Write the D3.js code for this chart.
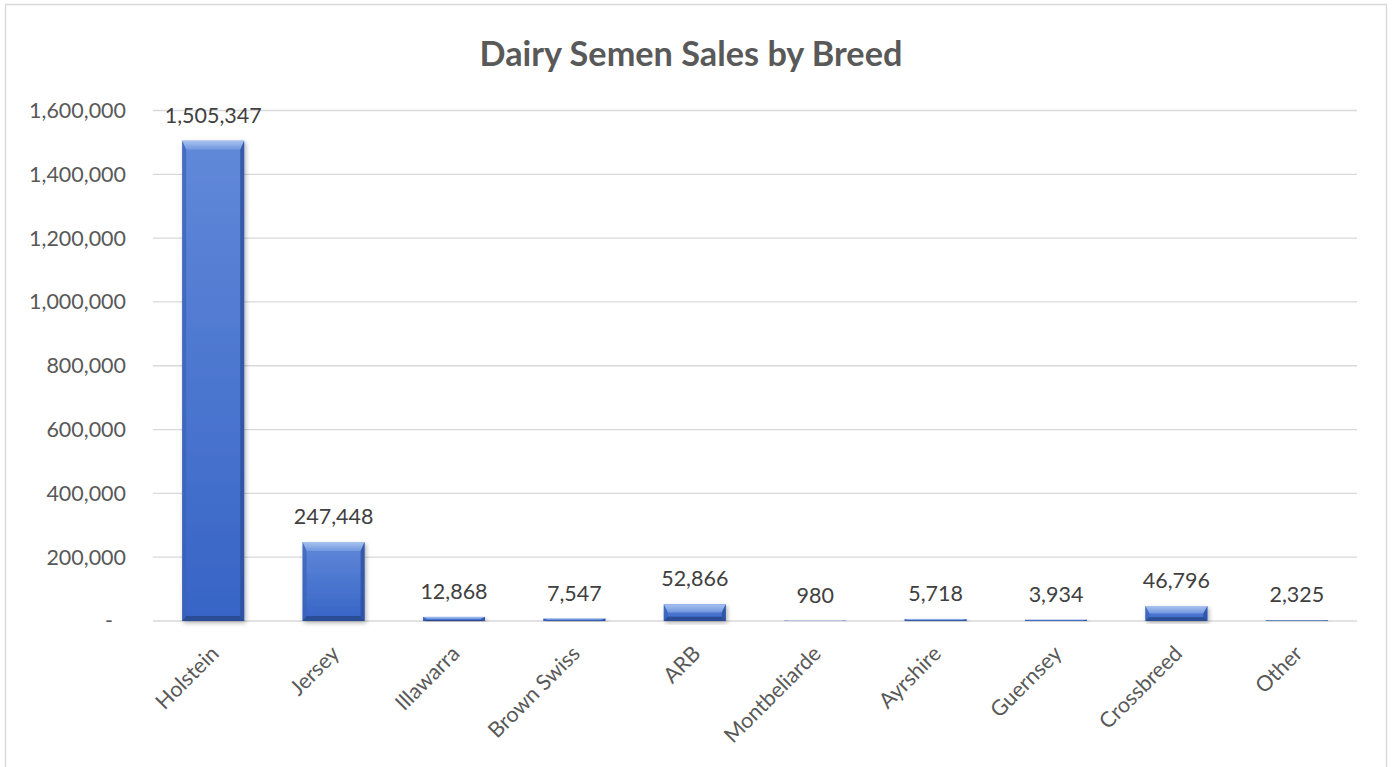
<!DOCTYPE html>
<html>
<head>
<meta charset="utf-8">
<script src="https://cdn.jsdelivr.net/npm/d3@7"></script>
<style>
  html, body { margin: 0; padding: 0; background: #fff; }
  svg { display: block; font-family: Lato, "Open Sans", sans-serif; }
</style>
</head>
<body>
<svg id="chart" width="1393" height="767"></svg>
<script>
const categories = ["Holstein", "Jersey", "Illawarra", "Brown Swiss", "ARB", "Montbeliarde", "Ayrshire", "Guernsey", "Crossbreed", "Other"];
const sales = [1505347, 247448, 12868, 7547, 52866, 980, 5718, 3934, 46796, 2325];
const yTicks = [0, 200000, 400000, 600000, 800000, 1000000, 1200000, 1400000, 1600000];
const title = "Dairy Semen Sales by Breed";

const W = 1393, H = 767;
const plot = { left: 153, right: 1357, top: 110.5, bottom: 621 };
const svg = d3.select("#chart");
const fmt = d3.format(",");

function fitSize(text, weight, targetWidth) {
  const t = svg.append("text").attr("font-size", 100).attr("font-weight", weight).text(text);
  const w = t.node().getComputedTextLength();
  t.remove();
  return 100 * targetWidth / w;
}
const labelSize = fitSize("1,600,000", "normal", 97);
const titleSize = fitSize(title, "bold", 423);

svg.append("rect").attr("x", 5.5).attr("y", 4.5).attr("width", 1381).attr("height", 780)
  .attr("fill", "#fff").attr("stroke", "#d9d9d9").attr("stroke-width", 1.5);

const defs = svg.append("defs");
const g1 = defs.append("linearGradient").attr("id", "face").attr("x1", 0).attr("y1", 0).attr("x2", 0).attr("y2", 1);
g1.append("stop").attr("offset", "0%").attr("stop-color", "#6189d9");
g1.append("stop").attr("offset", "100%").attr("stop-color", "#3764c6");
const g2 = defs.append("linearGradient").attr("id", "topbev").attr("x1", 0).attr("y1", 0).attr("x2", 0).attr("y2", 1);
g2.append("stop").attr("offset", "0%").attr("stop-color", "#a9c2f0");
g2.append("stop").attr("offset", "100%").attr("stop-color", "#7096e0");
const f = defs.append("filter").attr("id", "shadow").attr("x", "-20%").attr("y", "-20%").attr("width", "140%").attr("height", "140%");
f.append("feDropShadow").attr("dx", 1.5).attr("dy", 2).attr("stdDeviation", 2).attr("flood-color", "#000").attr("flood-opacity", 0.3);

const x = d3.scaleBand().domain(categories).range([plot.left, plot.right]).paddingInner(0.485).paddingOuter(0.2425);
const y = d3.scaleLinear().domain([0, 1600000]).range([plot.bottom, plot.top]);

svg.append("g").selectAll("line").data(yTicks).join("line")
  .attr("x1", plot.left).attr("x2", plot.right)
  .attr("y1", d => y(d)).attr("y2", d => y(d))
  .attr("stroke", "#d9d9d9").attr("stroke-width", 1.3);

const yAxis = d3.axisLeft(y).tickValues(yTicks).tickSize(0).tickPadding(0)
  .tickFormat(d => d === 0 ? "-" : fmt(d));
const ya = svg.append("g").attr("transform", `translate(${plot.left - 27},0)`).call(yAxis);
ya.select(".domain").remove();
ya.selectAll("text").attr("font-size", labelSize).attr("fill", "#595959")
  .attr("font-family", "Lato, sans-serif")
  .attr("dx", d => d === 0 ? -13 : 0);

const bars = svg.append("g").selectAll("g").data(sales).join("g").attr("filter", "url(#shadow)");
bars.each(function(v, i) {
  const gx = d3.select(this);
  const bx = x(categories[i]), bw = x.bandwidth();
  const by = y(v), bh = y(0) - y(v);
  const bt = Math.min(9, bh * 0.5), bb = Math.min(5, bh * 0.25), bs = Math.min(4, bw / 2);
  gx.append("rect").attr("x", bx).attr("y", by).attr("width", bw).attr("height", bh).attr("fill", "url(#face)");
  const pts = a => a.map(p => p.join(",")).join(" ");
  gx.append("polygon").attr("points", pts([[bx, by], [bx + bw, by], [bx + bw - bs, by + bt], [bx + bs, by + bt]])).attr("fill", "url(#topbev)");
  gx.append("polygon").attr("points", pts([[bx, by], [bx + bs, by + bt], [bx + bs, by + bh - bb], [bx, by + bh]])).attr("fill", "#3a63b8").attr("opacity", 0.7);
  gx.append("polygon").attr("points", pts([[bx + bw, by], [bx + bw - bs, by + bt], [bx + bw - bs, by + bh - bb], [bx + bw, by + bh]])).attr("fill", "#2a4f9e").attr("opacity", 0.8);
  gx.append("polygon").attr("points", pts([[bx, by + bh], [bx + bs, by + bh - bb], [bx + bw - bs, by + bh - bb], [bx + bw, by + bh]])).attr("fill", "#2b4d95");
});

svg.append("g").selectAll("text").data(sales).join("text")
  .attr("x", (d, i) => x(categories[i]) + x.bandwidth() / 2)
  .attr("y", d => y(d) - 18)
  .attr("text-anchor", "middle").attr("font-size", labelSize).attr("fill", "#404040")
  .text(d => fmt(d));

const xAxis = d3.axisBottom(x).tickSize(0).tickPadding(0);
const xa = svg.append("g").attr("transform", `translate(0,${plot.bottom})`).call(xAxis);
xa.select(".domain").remove();
xa.selectAll("text").attr("font-size", labelSize).attr("fill", "#595959")
  .attr("font-family", "Lato, sans-serif")
  .attr("text-anchor", "end").attr("dy", 0).attr("y", 0)
  .attr("transform", "translate(7,34) rotate(-45)");

svg.append("text").attr("x", 691).attr("y", 66).attr("text-anchor", "middle")
  .attr("font-size", titleSize).attr("font-weight", "bold").attr("fill", "#595959")
  .text(title);
</script>
</body>
</html>
